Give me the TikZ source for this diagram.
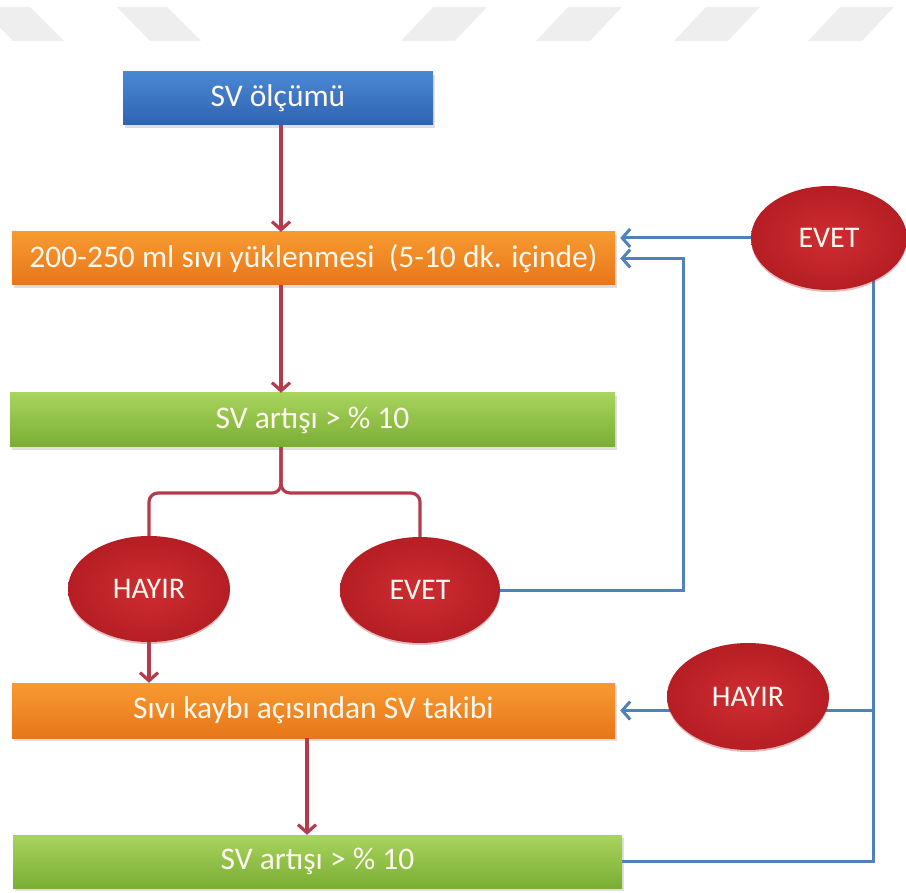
\documentclass[tikz,border=0pt]{standalone}
\usepackage{fontspec}
\setmainfont{Carlito}
\usetikzlibrary{shapes.geometric,arrows.meta,shadows,backgrounds}
\definecolor{wmgray}{HTML}{EEEEEE}
\definecolor{linered}{HTML}{B53A4B}
\definecolor{lineblue}{HTML}{4F81BD}
\definecolor{boxtext}{HTML}{FFF8EE}
\tikzset{
    box/.style={rectangle, inner sep=0pt, minimum height=53pt, text=boxtext,
        font=\fontsize{31.5}{36}\selectfont,
        drop shadow={shadow xshift=1.5pt, shadow yshift=-3pt, opacity=0.25}},
    bluebox/.style={box, top color=svtop, bottom color=svbot},
    orangebox/.style={box, top color=ortop, bottom color=orbot},
    greenbox/.style={box, top color=grtop, bottom color=grbot},
    answer/.style={ellipse, inner sep=0pt, minimum width=162pt, minimum height=106pt,
        inner color=redin, outer color=redout, text=boxtext,
        font=\fontsize{30}{34}\selectfont,
        drop shadow={shadow xshift=0pt, shadow yshift=-2pt, opacity=0.3, fill=redout}},
    redline/.style={draw=linered, line width=3.2pt},
    redarrow/.style={redline, -{Straight Barb[length=8pt,width=18pt]}},
    blueline/.style={draw=lineblue, line width=3pt},
    bluearrow/.style={blueline, -{Straight Barb[length=8pt,width=18pt]}, shorten >=5pt},
}
\definecolor{svtop}{HTML}{4A88D4}
\definecolor{svbot}{HTML}{2F63B2}
\definecolor{ortop}{HTML}{F89A30}
\definecolor{orbot}{HTML}{E7761A}
\definecolor{grtop}{HTML}{A8D45E}
\definecolor{grbot}{HTML}{7AAD33}
\definecolor{redin}{HTML}{CF2D32}
\definecolor{redout}{HTML}{B51E24}
\begin{document}
\begin{tikzpicture}[x=1pt, y=-1pt]
    \useasboundingbox (0,0) rectangle (906,893);
    % watermark stripes at the top
    \foreach \x in {-20,117}
        \fill[wmgray] (\x,7) -- (\x+50,7) -- (\x+84,41) -- (\x+33,41) -- cycle;
    \foreach \x in {433,568,706,840}
        \fill[wmgray] (\x,7) -- (\x+54,7) -- (\x+22,41) -- (\x-32,41) -- cycle;
    % boxes
    \node[bluebox, minimum width=310pt] (olcum) at (278,98.5) {SV ölçümü};
    \node[orangebox, minimum width=603pt] (yukle) at (313.5,258.5) {200-250 ml sıvı yüklenmesi\ \ (5-10 dk. içinde)};
    \node[greenbox, minimum width=605pt, minimum height=54pt] (artis1) at (312.5,420) {SV artışı > \% 10};
    \node[orangebox, minimum width=603pt, minimum height=55pt] (takip) at (313.5,710.5) {Sıvı kaybı açısından SV takibi};
    \node[greenbox, minimum width=609pt] (artis2) at (317.5,861.5) {SV artışı > \% 10};
    % answers
    \node[answer] (hayirA) at (149,589) {HAYIR};
    \node[answer, minimum width=160pt] (evetA) at (420,590) {EVET};
    \node[answer, minimum width=156pt, minimum height=104pt] (evetB) at (829,238) {EVET};
    \node[answer, minimum height=107pt] (hayirB) at (748,696.5) {HAYIR};
    % helper points
    \coordinate (axis) at (281,0);
    \coordinate (split) at (281,493);
    \coordinate (axisB) at (307,0);
    \coordinate (rA) at (683,0);
    \coordinate (rB) at (873,0);
    % red connectors
    \draw[redarrow] (olcum.south -| axis) -- (axis |- yukle.north);
    \draw[redarrow] (yukle.south -| axis) -- (axis |- artis1.north);
    \draw[redline, rounded corners=9pt] (hayirA.north) |- (split) -- (split |- artis1.south);
    \draw[redline, rounded corners=9pt] (evetA.north) |- (split) -- (split |- artis1.south);
    \draw[redarrow] (hayirA.south) -- (hayirA.south |- takip.north);
    \draw[redarrow] (takip.south -| axisB) -- (axisB |- artis2.north);
    % blue connectors
    \draw[bluearrow] (evetA.east) -- (evetA.east -| rA) |- (yukle.east);
    \begin{scope}[on background layer]
        \draw[blueline] (artis2.east) -| (rB |- evetB.center);
        \draw[bluearrow] (evetB.center) -- (evetB.center -| yukle.east);
        \draw[bluearrow] (rB |- takip.east) -- (takip.east);
    \end{scope}
\end{tikzpicture}
\end{document}
